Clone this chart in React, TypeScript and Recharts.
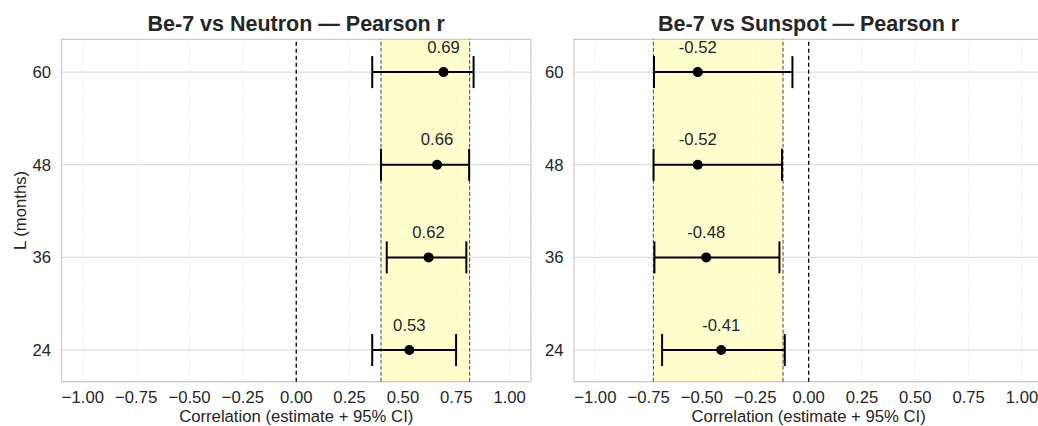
import {
  ScatterChart,
  Scatter,
  XAxis,
  YAxis,
  CartesianGrid,
  ReferenceArea,
  ReferenceLine,
  ErrorBar,
  LabelList,
} from "recharts"

const lags = [24, 36, 48, 60]
const xTicks = [-1, -0.75, -0.5, -0.25, 0, 0.25, 0.5, 0.75, 1]

const neutronR = [0.53, 0.62, 0.66, 0.69]
const neutronLo = [0.356, 0.424, 0.397, 0.356]
const neutronHi = [0.749, 0.797, 0.81, 0.831]
const neutronBand = [0.397, 0.8125]

const sunspotR = [-0.41, -0.48, -0.52, -0.52]
const sunspotLo = [-0.687, -0.723, -0.727, -0.725]
const sunspotHi = [-0.112, -0.137, -0.125, -0.076]
const sunspotBand = [-0.728, -0.12]

const FONT = "'Liberation Sans', Arial, sans-serif"
const TEXT = "#262626"
const FS = 16.7

const buildRows = (r: number[], lo: number[], hi: number[]) =>
  lags.map((lag, i) => ({
    lag,
    r: r[i],
    err: [r[i] - lo[i], hi[i] - r[i]],
    label: r[i].toFixed(2),
  }))

const fmtX = (v: number) => (v < 0 ? "\u2212" + Math.abs(v).toFixed(2) : v.toFixed(2))

const Dot = (props: any) => <circle cx={props.cx} cy={props.cy} r={5} fill="#000" />

interface PanelProps {
  rows: ReturnType<typeof buildRows>
  band: number[]
  width: number
  yAxisWidth: number
  marginRight: number
  yLabel?: string
}

function Panel({ rows, band, width, yAxisWidth, marginRight, yLabel }: PanelProps) {
  return (
    <ScatterChart
      width={width}
      height={426}
      margin={{ top: 39.3, right: marginRight, left: 0, bottom: 0 }}
      style={{ fontFamily: FONT }}
    >
      <ReferenceArea
        x1={band[0]}
        x2={band[1]}
        y1={19.9}
        y2={64.25}
        fill="#ffffb0"
        fillOpacity={0.62}
        stroke="none"
      />
      <CartesianGrid horizontal={true} vertical={false} stroke="#d6d6d6" strokeWidth={1} />
      <CartesianGrid horizontal={false} vertical={true} stroke="#e2e2e2" strokeDasharray="1 2" />
      <XAxis
        type="number"
        dataKey="r"
        domain={[-1.1, 1.1]}
        ticks={xTicks}
        tickFormatter={fmtX}
        allowDataOverflow
        height={44.3}
        axisLine={false}
        tickLine={false}
        tickSize={0}
        tickMargin={9.7}
        tick={{ fill: TEXT, fontSize: FS }}
        label={{
          value: "Correlation (estimate + 95% CI)",
          position: "insideBottom",
          offset: 4,
          fill: TEXT,
          fontSize: FS,
        }}
      />
      <YAxis
        type="number"
        dataKey="lag"
        domain={[19.9, 64.25]}
        ticks={lags}
        allowDataOverflow
        width={yAxisWidth}
        axisLine={false}
        tickLine={false}
        tickSize={0}
        tickMargin={10.5}
        tick={{ fill: TEXT, fontSize: FS }}
        label={
          yLabel
            ? {
                value: yLabel,
                angle: -90,
                position: "insideLeft",
                offset: 20,
                fill: TEXT,
                fontSize: FS,
                style: { textAnchor: "middle" },
              }
            : undefined
        }
      />
      <ReferenceLine x={band[0]} stroke="#444" strokeWidth={1} strokeDasharray="4 2" />
      <ReferenceLine x={band[1]} stroke="#444" strokeWidth={1} strokeDasharray="4 2" />
      <ReferenceLine x={0} stroke="#000" strokeWidth={1.3} strokeDasharray="4 3" />
      <Scatter data={rows} shape={Dot} isAnimationActive={false}>
        <ErrorBar dataKey="err" direction="x" width={16} strokeWidth={2} stroke="#000" />
        <LabelList dataKey="label" position="top" offset={14.8} fill={TEXT} fontSize={FS} />
      </Scatter>
      <ReferenceArea
        x1={-1.1}
        x2={1.1}
        y1={19.9}
        y2={64.25}
        fill="none"
        stroke="#cccccc"
        strokeWidth={1.2}
      />
    </ScatterChart>
  )
}

const titleStyle = {
  position: "absolute" as const,
  top: 12.2,
  fontFamily: FONT,
  fontWeight: 700,
  fontSize: 21.5,
  lineHeight: "24px",
  color: TEXT,
  textAlign: "center" as const,
  whiteSpace: "nowrap" as const,
}

export default function App() {
  const neutronRows = buildRows(neutronR, neutronLo, neutronHi)
  const sunspotRows = buildRows(sunspotR, sunspotLo, sunspotHi)
  return (
    <div
      style={{
        position: "absolute",
        left: 0,
        top: 0,
        width: 1038,
        height: 426,
        overflow: "hidden",
        background: "#fff",
      }}
    >
      <div style={{ ...titleStyle, left: 61.5, width: 469.5 }}>Be-7 vs Neutron — Pearson r</div>
      <div style={{ ...titleStyle, left: 574, width: 469.3 }}>Be-7 vs Sunspot — Pearson r</div>
      <div style={{ position: "absolute", left: 0, top: 0 }}>
        <Panel
          rows={neutronRows}
          band={neutronBand}
          width={540}
          yAxisWidth={61.5}
          marginRight={9}
          yLabel="L (months)"
        />
      </div>
      <div style={{ position: "absolute", left: 540, top: 0 }}>
        <Panel
          rows={sunspotRows}
          band={sunspotBand}
          width={510}
          yAxisWidth={34}
          marginRight={6.7}
        />
      </div>
    </div>
  )
}
